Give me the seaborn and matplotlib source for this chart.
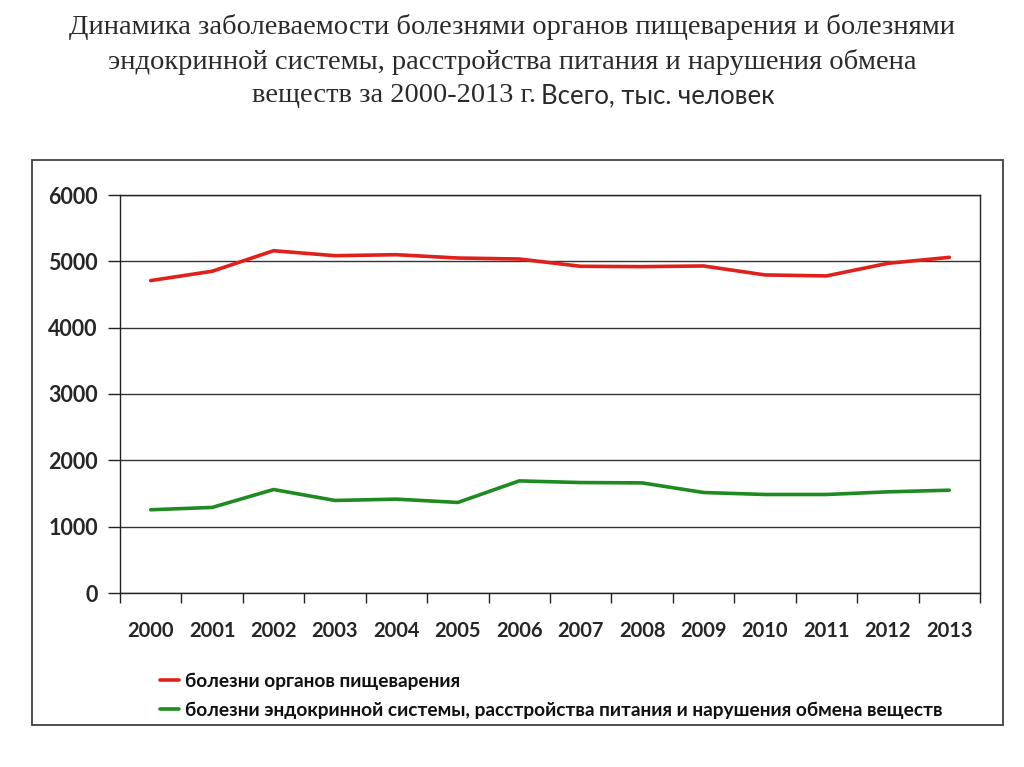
import numpy as np
import pandas as pd
import matplotlib
matplotlib.use("Agg")
import matplotlib.pyplot as plt
from matplotlib.patches import Rectangle
import seaborn as sns

# data (тыс. человек)
years = [2000, 2001, 2002, 2003, 2004, 2005, 2006, 2007, 2008, 2009, 2010, 2011, 2012, 2013]
digestive = [4710, 4850, 5160, 5085, 5100, 5050, 5035, 4925, 4920, 4930, 4795, 4780, 4970, 5060]
endocrine = [1255, 1290, 1560, 1395, 1415, 1365, 1690, 1665, 1660, 1515, 1485, 1485, 1525, 1550]

label_red = "болезни органов пищеварения"
label_green = "болезни эндокринной системы, расстройства питания и нарушения обмена веществ"

df = pd.DataFrame({
    "pos": list(range(len(years))) * 2,
    "value": digestive + endocrine,
    "series": [label_red] * len(years) + [label_green] * len(years),
})

sns.set_style("white")
plt.rcParams["font.family"] = ["Lato", "DejaVu Sans"]

fig = plt.figure(figsize=(10.24, 7.67), dpi=100)
ax = fig.add_axes([120 / 1024, 1 - 593 / 767, 860 / 1024, 398 / 767])

sns.lineplot(data=df, x="pos", y="value", hue="series",
             palette={label_red: "#e0201b", label_green: "#1f8a1f"},
             linewidth=2.6, ax=ax, legend=True)

handles, labels = ax.get_legend_handles_labels()
ax.get_legend().remove()

ax.set_xlim(-0.5, len(years) - 0.5)
ax.set_ylim(0, 6000)
ax.set_yticks(range(0, 6001, 1000))
ax.set_yticklabels([str(v) for v in range(0, 6001, 1000)], fontsize=15.5, fontweight="bold")
ax.set_xticks(np.arange(-0.5, len(years)), labels=[""] * (len(years) + 1))
ax.set_xticks(range(len(years)), labels=[str(y) for y in years], minor=True)
ax.tick_params(axis="x", which="major", bottom=True, direction="out", length=7,
               width=1, color="#222222")
ax.tick_params(axis="x", which="minor", bottom=True, length=0, pad=20.5, labelsize=14.5)
for t in ax.get_xticklabels(minor=True):
    t.set_fontweight("bold")
ax.tick_params(axis="y", left=True, direction="out", length=9, width=1,
               color="#222222", pad=7)
ax.set_xlabel("")
ax.set_ylabel("")
ax.grid(axis="y", color="#333333", linewidth=1)
ax.set_axisbelow(True)
for s in ax.spines.values():
    s.set_color("#222222")
    s.set_linewidth(1)
    s.set_visible(True)

# outer frame
fig.patches.append(Rectangle((32 / 1024, 1 - 725 / 767), 971 / 1024, 565 / 767,
                             transform=fig.transFigure, fill=False,
                             edgecolor="#404040", linewidth=1.3))

leg = fig.legend(handles, labels, loc="upper left",
                 bbox_to_anchor=(143 / 1024, 1 - 655 / 767),
                 frameon=False, handlelength=1.0,
                 handletextpad=0.3, labelspacing=0.62,
                 prop={"size": 13.8, "weight": "bold"})
for ln in leg.get_lines():
    ln.set_linewidth(2.6)
for t in leg.get_texts():
    t.set_color("#111111")

# title
serif = ["Liberation Serif", "DejaVu Serif"]
fig.text(0.5, 1 - 27 / 767, "Динамика заболеваемости болезнями органов пищеварения и болезнями",
         ha="center", va="center", fontsize=20.5, family=serif, color="#2a2a2a")
fig.text(0.5, 1 - 62 / 767, "эндокринной системы, расстройства питания и нарушения обмена",
         ha="center", va="center", fontsize=20.5, family=serif, color="#2a2a2a")
fig.text(536 / 1024, 1 - 96 / 767, "веществ за 2000-2013 г.",
         ha="right", va="center", fontsize=20.5, family=serif, color="#2a2a2a")
fig.text(541 / 1024, 1 - 96 / 767, "Всего, тыс. человек",
         ha="left", va="center", fontsize=18.5, color="#2a2a2a")

fig.savefig("out.png", dpi=100)
